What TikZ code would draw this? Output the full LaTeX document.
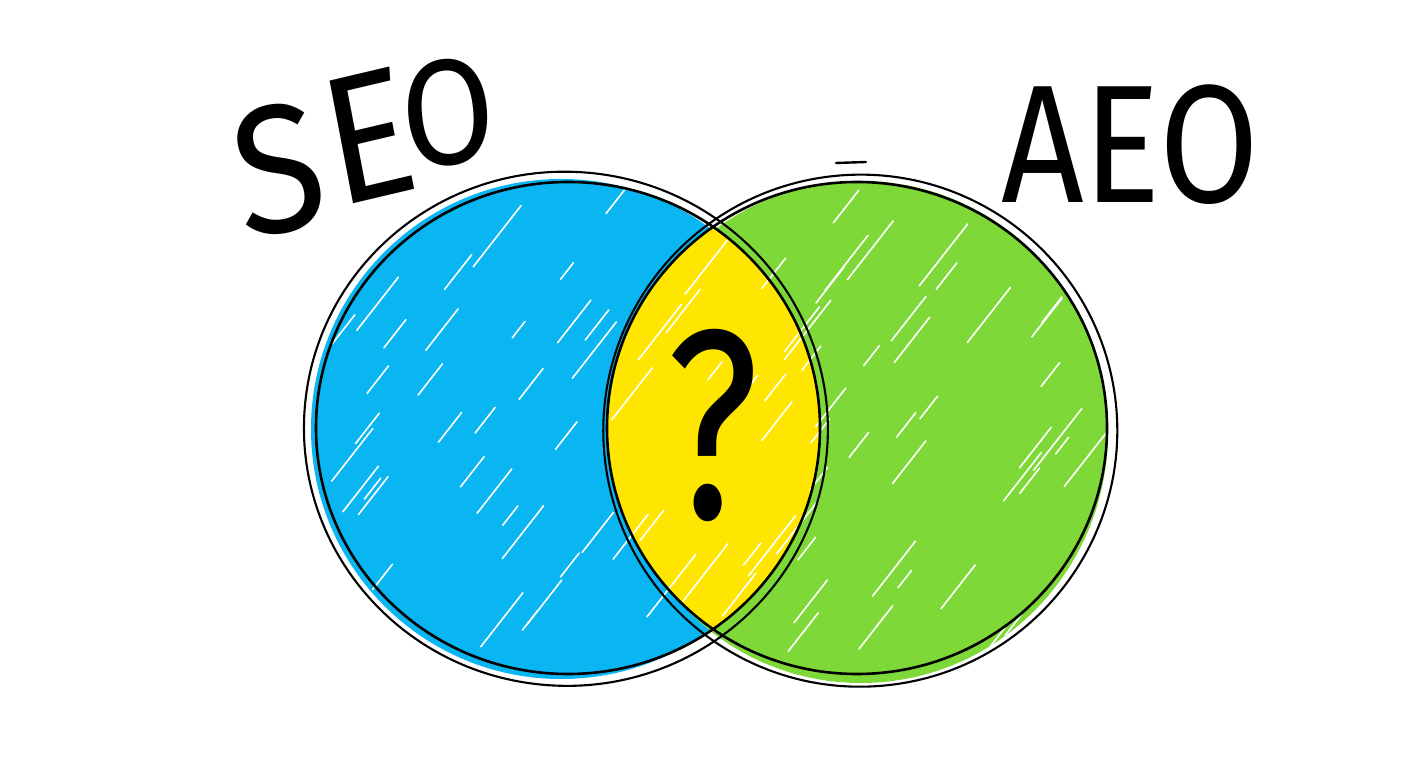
\documentclass[tikz,border=0pt]{standalone}
\usepackage{fontspec}
\setmainfont{Fira Sans}
\definecolor{seoblue}{RGB}{10,182,242}
\definecolor{aeogreen}{RGB}{126,216,56}
\definecolor{qyellow}{RGB}{255,230,0}
\tikzset{
  outline/.style={draw=black,line width=2.6pt},
  outlinethin/.style={draw=black,line width=2.1pt},
  sketchdash/.style={draw=black,line width=2.4pt,line cap=round},
  streak/.style={draw=white,line width=1.6pt,line cap=round},
  hand/.style={inner sep=0pt,text=black}
}
\begin{document}
\begin{tikzpicture}[x=1pt,y=1pt]
\useasboundingbox[fill=white] (0,0) rectangle (1408,768);
% fills
\fill[seoblue] (561,339) ellipse [x radius=250,y radius=250];
\fill[aeogreen] (861,336) ellipse [x radius=247,y radius=251];
\begin{scope}
  \clip (568,340) ellipse [x radius=252,y radius=246];
  \fill[qyellow] (857,340) ellipse [x radius=250,y radius=246];
\end{scope}
% white streaks of the scribble
\begin{scope}
  \clip (561,339) ellipse [x radius=250,y radius=250] (861,336) ellipse [x radius=247,y radius=251];
  \pgfmathsetseed{11}
  \foreach \i in {1,...,95}{
    \pgfmathsetmacro\xx{320+rnd*780}
    \pgfmathsetmacro\yy{100+rnd*470}
    \pgfmathsetmacro\ll{20+rnd*60}
    \draw[streak] (\xx,\yy) -- ++(52:\ll);
  }
\end{scope}
% outlines
\node[inner sep=0pt,minimum size=0pt] (seo) at (568,340) {};
\node[inner sep=0pt,minimum size=0pt] (aeo) at (857,340) {};
\draw[outline] (seo) ellipse [x radius=252,y radius=246];
\draw[outlinethin,rotate around={-6:(seo)}] ([shift={(-2,-1)}]seo.center) ellipse [x radius=262,y radius=257];
\draw[outline] (aeo) ellipse [x radius=250,y radius=246];
\draw[outlinethin,rotate around={6:(aeo)}] ([shift={(3,-3)}]aeo.center) ellipse [x radius=257,y radius=256];
% loose sketch stroke at the top
\coordinate (d1a) at (836,605);
\coordinate (d1b) at (866,606);
\draw[sketchdash] (d1a) -- (d1b);
% texts
\node[hand,anchor=base west,xscale=0.9] (seotxt) at (224,528)
  {\fontsize{182}{182}\selectfont \rotatebox{10}{S}\kern-20pt\raisebox{32pt}{\rotatebox{12}{E}}\kern-30pt\raisebox{70pt}{\rotatebox{6}{\fontsize{150}{150}\selectfont O}}};
\node[hand,anchor=base west,xscale=0.86] (aeotxt) at (1001,565)
  {\fontsize{168}{168}\selectfont AEO};
\node[hand,xscale=0.75] (q) at (713,343) {\fontsize{270}{270}\selectfont ?};
\end{tikzpicture}
\end{document}
